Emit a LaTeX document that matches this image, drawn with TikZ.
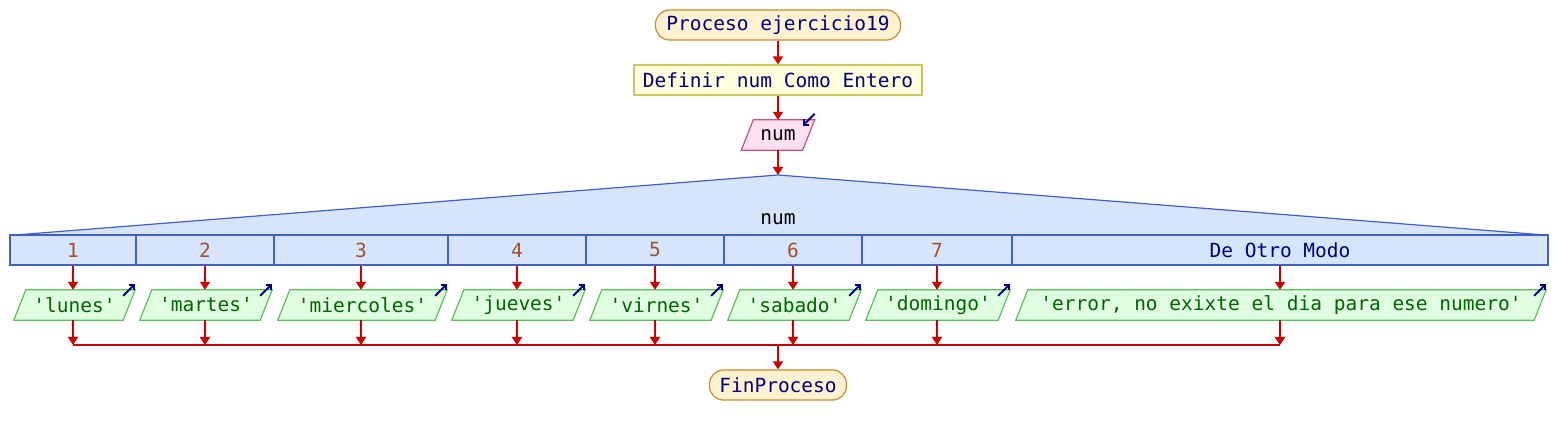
\documentclass[tikz,border=0pt]{standalone}
\usepackage{fontspec}
\setmonofont{DejaVu Sans Mono}
\usetikzlibrary{arrows.meta,backgrounds}
\definecolor{flowred}{RGB}{204,0,0}
\definecolor{navy}{RGB}{0,0,128}
\definecolor{termfill}{RGB}{255,242,208}
\definecolor{termline}{RGB}{200,140,50}
\definecolor{deffill}{RGB}{255,255,221}
\definecolor{defline}{RGB}{200,200,90}
\definecolor{rdfill}{RGB}{255,224,240}
\definecolor{rdline}{RGB}{200,80,130}
\definecolor{swfill}{RGB}{214,228,252}
\definecolor{swline}{RGB}{64,96,200}
\definecolor{outfill}{RGB}{224,255,224}
\definecolor{outline}{RGB}{90,190,90}
\definecolor{outtext}{RGB}{0,100,0}
\definecolor{numtext}{RGB}{160,82,45}
\newcommand\parallelo[3]{%
  \draw[draw=#2,fill=#3,line width=1.2pt] ([xshift=12pt]#1.north west) -- (#1.north east) -- ([xshift=-12pt]#1.south east) -- (#1.south west) -- cycle;}
\begin{document}
\begin{tikzpicture}[x=1pt,y=1pt,
  font=\ttfamily\fontsize{19.5}{22}\selectfont,
  terminal/.style={draw=termline,fill=termfill,line width=1.2pt,rounded corners=14pt,minimum height=30pt,inner sep=0pt,text=navy},
  defbox/.style={draw=defline,fill=deffill,line width=1.2pt,minimum height=30pt,inner sep=0pt,text=navy},
  parabox/.style={minimum height=30pt,inner sep=0pt},
  outbox/.style={parabox,text=outtext},
  cell/.style={draw=swline,fill=swfill,line width=1.2pt,minimum height=30pt,inner sep=0pt,text=numtext},
  flow/.style={draw=flowred,line width=2pt,-{Triangle[length=8pt,width=10pt]}},
  flowline/.style={draw=flowred,line width=2pt},
  icon/.style={draw=navy,line width=2pt,-{Straight Barb[length=4pt,width=8pt]}}
]
\useasboundingbox (0,0) rectangle (1556,-435);

\node[terminal,minimum width=245pt] (start) at (778,-25) {Proceso ejercicio19};
\node[defbox,minimum width=288pt] (def) at (778,-80) {Definir num Como Entero};
\node[parabox,minimum width=73pt] (rd) at (778,-135) {num};

% switch triangle
\coordinate (apex) at (778,-175);
\draw[draw=swline,fill=swfill,line width=1.2pt] (apex) -- (15,-235) -- (1545,-235) -- cycle;
\node (swlabel) at (778,-219) {num};

\node[cell,minimum width=126pt] (c1) at (73,-250) {1};
\node[cell,minimum width=138pt] (c2) at (205,-250) {2};
\node[cell,minimum width=174pt] (c3) at (361,-250) {3};
\node[cell,minimum width=138pt] (c4) at (517,-250) {4};
\node[cell,minimum width=138pt] (c5) at (655,-250) {5};
\node[cell,minimum width=138pt] (c6) at (793,-250) {6};
\node[cell,minimum width=150pt] (c7) at (937,-250) {7};
\node[cell,minimum width=536pt,text=navy] (c8) at (1280,-250) {De Otro Modo};

\node[outbox,minimum width=121pt] (o1) at (74.5,-305) {'lunes'};
\node[outbox,minimum width=132pt] (o2) at (206,-305) {'martes'};
\node[outbox,minimum width=169pt] (o3) at (362.5,-305) {'miercoles'};
\node[outbox,minimum width=133pt] (o4) at (518.5,-305) {'jueves'};
\node[outbox,minimum width=133pt] (o5) at (656.5,-305) {'virnes'};
\node[outbox,minimum width=133pt] (o6) at (794.5,-305) {'sabado'};
\node[outbox,minimum width=144pt] (o7) at (938,-305) {'domingo'};
\node[outbox,minimum width=530pt] (o8) at (1281,-305) {'error, no exixte el dia para ese numero'};

\node[terminal,minimum width=137pt] (end) at (778,-385) {FinProceso};
\coordinate (j) at (778,-345);

\begin{scope}[on background layer]
  \parallelo{rd}{rdline}{rdfill}
  \foreach \i in {1,...,8} {\parallelo{o\i}{outline}{outfill}}
\end{scope}

% icons
\draw[icon] ([yshift=6pt]rd.north east) -- ([xshift=-12pt,yshift=-6pt]rd.north east);
\foreach \i in {1,...,8} {
  \draw[icon] ([xshift=-12pt,yshift=-6pt]o\i.north east) -- ([yshift=6pt]o\i.north east);
}

% connectors
\draw[flow] (start) -- (def);
\draw[flow] (def) -- (rd);
\draw[flow] (rd) -- (apex);
\foreach \i/\x in {1/73,2/205,3/361,4/517,5/655,6/793,7/937,8/1280} {
  \draw[flow] (c\i.south -| \x,0) -- (o\i.north -| \x,0);
  \draw[flow] (o\i.south -| \x,0) -- (\x,-345);
}
\draw[flowline] (73,-345) -- (1280,-345);
\draw[flow] (j) -- (end);
\end{tikzpicture}
\end{document}
